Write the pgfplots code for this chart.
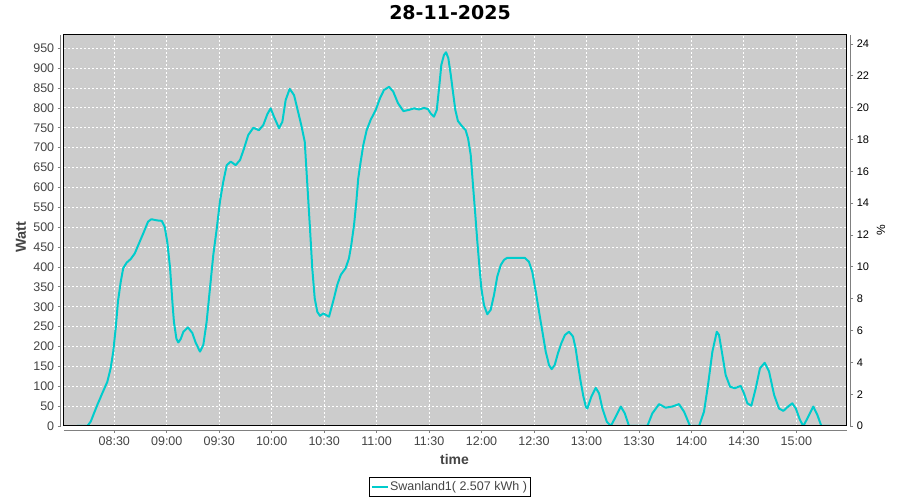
\documentclass[border=0pt]{standalone}
\usepackage{pgfplots}
\pgfplotsset{compat=1.18}
\usepackage{fontspec}
\setmainfont{Liberation Sans}
\newfontfamily\titlefont{DejaVu Sans}
\definecolor{curve}{RGB}{0,204,204}
\definecolor{bg}{RGB}{204,204,204}
\definecolor{txt}{RGB}{68,68,68}
\definecolor{axgray}{RGB}{128,128,128}
\pgfplotstableread{
m w
488.7 0
494.6 0
496.5 11
500.3 53
503.1 82
506.0 111
507.9 145
509.4 187
510.8 246
512.1 313
513.7 363
515.1 397
517.1 411
519.4 420
521.7 434
524.1 459
527.0 489
529.3 514
531.2 520
534.6 517
537.1 516
538.8 501
540.3 463
541.9 397
543.2 313
544.1 262
545.5 220
546.6 210
548.0 219
549.5 237
552.1 248
554.6 234
556.5 210
559.0 187
560.9 204
562.8 262
564.7 346
566.6 430
568.6 497
570.4 564
572.3 614
574.3 656
576.6 665
579.4 656
581.9 669
584.2 698
586.6 732
589.5 750
592.7 744
595.2 757
597.5 784
599.4 799
601.3 778
604.2 749
606.1 765
608.0 820
610.3 848
612.8 832
615.1 790
616.9 757
618.9 715
620.4 606
621.9 497
623.2 397
624.6 321
626.1 287
627.6 277
629.5 283
631.1 279
632.8 275
635.6 321
637.5 355
639.5 380
642.3 397
644.2 422
645.5 455
647.1 506
648.4 564
649.5 623
650.9 665
652.4 707
654.3 744
656.6 770
659.5 795
661.9 824
664.2 845
667.1 853
669.5 841
672.2 812
675.3 792
678.5 795
681.4 799
684.2 796
687.1 800
689.4 797
690.9 786
692.8 778
694.4 795
695.7 849
697.0 908
698.5 933
699.7 940
701.0 925
702.4 883
703.9 832
705.0 795
706.5 767
709.0 753
710.9 744
712.3 723
713.8 682
715.1 606
716.3 539
717.6 463
718.7 405
719.9 346
721.4 304
723.3 281
725.2 292
727.1 329
729.0 376
731.0 405
732.9 418
734.7 423
739.5 423
744.7 423
747.1 413
749.0 388
751.0 338
752.9 287
754.8 237
756.7 187
758.6 153
760.1 143
761.8 153
763.7 183
765.6 208
767.7 229
770.0 237
772.3 225
773.8 195
775.2 153
776.7 111
778.2 75
779.6 49
780.5 44
782.8 74
785.3 96
787.2 82
789.1 44
791.6 11
793.9 0
796.7 23
799.6 49
801.9 32
804.3 0
814.8 0
817.7 32
821.5 55
825.3 46
829.1 49
832.9 55
835.8 36
839.2 0
844.4 0
847.2 36
849.5 103
852.0 187
854.5 237
855.8 229
857.7 179
859.6 128
862.1 99
864.8 95
868.2 101
870.1 82
872.0 57
874.3 51
876.8 95
879.2 145
881.9 159
884.4 137
887.3 78
890.1 44
892.6 38
895.3 49
897.7 57
899.7 44
902.1 15
904.0 0
906.3 19
909.7 49
912.0 28
914.3 0
919.3 0
}\solar
\begin{document}
\begin{tikzpicture}
\useasboundingbox (0,0) rectangle (900pt,500pt);
\begin{axis}[
  at={(64pt,74pt)}, anchor=south west,
  scale only axis, width=782.7pt, height=391pt,
  xmin=481.24, xmax=928.8, ymin=0, ymax=983.4,
  axis background/.style={fill=bg},
  axis x line*=bottom, axis y line*=left,
  axis x line shift=4pt, axis y line shift=3.3pt,
  axis line style={axgray, line width=0.8pt, -},
  xtick={510,540,...,900},
  xticklabels={08:30,09:00,09:30,10:00,10:30,11:00,11:30,12:00,12:30,13:00,13:30,14:00,14:30,15:00},
  ytick={0,50,...,950},
  xtick pos=bottom, ytick pos=left,
  tick align=outside, major tick length=3pt,
  tick style={axgray, line width=0.8pt},
  grid=major,
  major grid style={white, dash pattern=on 2pt off 2pt, line width=0.9pt},
  ticklabel style={font=\fontsize{12.5}{15}\selectfont, text=txt},
  /pgf/number format/assume math mode=true,
  title={28-11-2025},
  title style={font=\titlefont\bfseries\fontsize{19}{22}\selectfont, at={(axis description cs:0.4932,1.0238)}, anchor=base},
  xlabel={time},
  xlabel style={font=\bfseries\fontsize{14}{16}\selectfont, text=txt, at={(axis description cs:0.4989,-0.0997)}, anchor=base},
  ylabel={Watt},
  ylabel style={font=\bfseries\fontsize{14.5}{16}\selectfont, text=txt, at={(axis description cs:-0.0549,0.4834)}, anchor=center},
  legend image code/.code={\draw[#1] (0pt,0pt) -- (15.6pt,0pt);},
  legend style={at={(axis description cs:0.4928,-0.1312)}, anchor=north, draw=black, line width=0.8pt, fill=white, inner xsep=2pt, inner ysep=2.5pt, font=\fontsize{12.5}{15}\selectfont, text=txt, nodes={inner sep=1.5pt}},
  after end axis/.code={\draw[black, line width=1pt] (rel axis cs:0,0) rectangle (rel axis cs:1,1);},
]
\addplot[curve, line width=2pt, line join=round] table[x=m, y=w] {\solar};
\addlegendentry{Swanland1( 2.507 kWh )}
\end{axis}
\begin{axis}[
  at={(64pt,74pt)}, anchor=south west,
  scale only axis, width=782.7pt, height=391pt,
  xmin=481.24, xmax=928.8, ymin=0, ymax=24.565,
  axis x line=none, axis y line*=right,
  axis y line shift=3.6pt,
  axis line style={axgray, line width=0.8pt, -},
  ytick={0,2,...,24},
  ytick pos=right, yticklabel pos=right,
  tick align=outside, major tick length=3pt,
  tick style={axgray, line width=0.8pt},
  ticklabel style={font=\fontsize{11}{13}\selectfont, text=black},
  /pgf/number format/assume math mode=true,
  ylabel={\%},
  ylabel style={font=\fontsize{12}{14}\selectfont, text=black, at={(axis description cs:1.0438,0.5013)}, anchor=center},
]
\end{axis}
\end{tikzpicture}
\end{document}
